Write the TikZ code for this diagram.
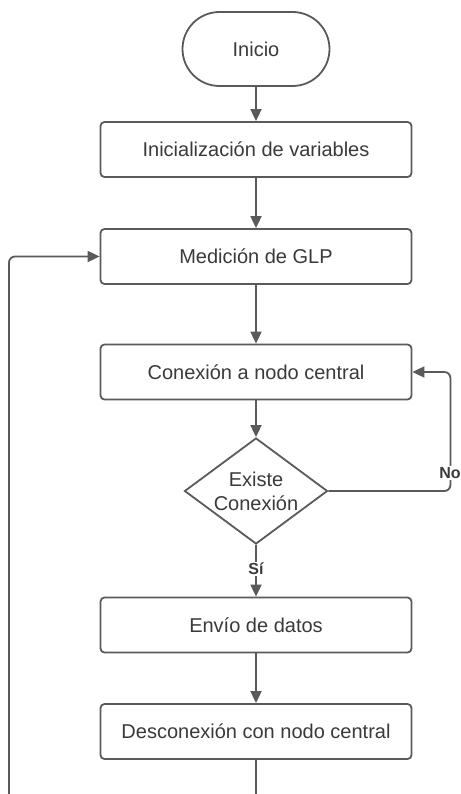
\documentclass[tikz,border=0pt]{standalone}
\usepackage{fontspec}
\setmainfont{Liberation Sans}
\usetikzlibrary{arrows.meta,shapes.geometric,shapes.misc}
\definecolor{linegray}{HTML}{5A5A5A}
\definecolor{textgray}{HTML}{3A3A3A}
\begin{document}
\begin{tikzpicture}[x=1pt,y=-1pt,
  line/.style={draw=linegray, line width=1.8pt},
  arr/.style={line, -{Triangle[length=12pt,width=11pt]}},
  box/.style={draw=linegray, line width=1.8pt, rounded corners=4pt, minimum width=311pt, minimum height=55pt, inner sep=0pt, font=\fontsize{20}{24}\selectfont, text=textgray},
  term/.style={draw=linegray, line width=1.8pt, rounded rectangle, minimum width=147pt, minimum height=74pt, inner sep=0pt, font=\fontsize{20}{24}\selectfont, text=textgray},
  decision/.style={draw=linegray, line width=1.8pt, diamond, aspect=1.35, minimum width=143pt, minimum height=106pt, inner sep=0pt, align=center, font=\fontsize{20}{24}\selectfont, text=textgray},
  lbl/.style={fill=white, inner sep=1.5pt, font=\fontsize{16}{18}\selectfont\bfseries, text=textgray}]
\useasboundingbox[fill=white] (0,0) rectangle (460,794);
\node[term] (ini) at (256,49) {Inicio};
\node[box] (var) at (256,149.5) {Inicialización de variables};
\node[box] (med) at (256,256.5) {Medición de GLP};
\node[box] (con) at (256,372) {Conexión a nodo central};
\node[decision] (dia) at (256,491) {Existe\\Conexión};
\node[box] (env) at (256,625) {Envío de datos};
\node[box] (des) at (256,731.5) {Desconexión con nodo central};
\coordinate (lb) at (9,794);
\coordinate (db) at (256,794);
\draw[arr] (ini) -- (var);
\draw[arr] (var) -- (med);
\draw[arr] (med) -- (con);
\draw[arr] (con) -- (dia);
\draw[arr] (dia) -- (env);
\draw[arr] (env) -- (des);
\draw[line] (des) -- (db);
\draw[arr, rounded corners=6pt] (lb) |- (med.west);
\draw[arr, rounded corners=6pt] (dia.east) -- ++(122,0) |- (con.east);
\node[lbl] (no) at (450,473) {No};
\node[lbl] (si) at (256,569) {Sí};
\end{tikzpicture}
\end{document}
